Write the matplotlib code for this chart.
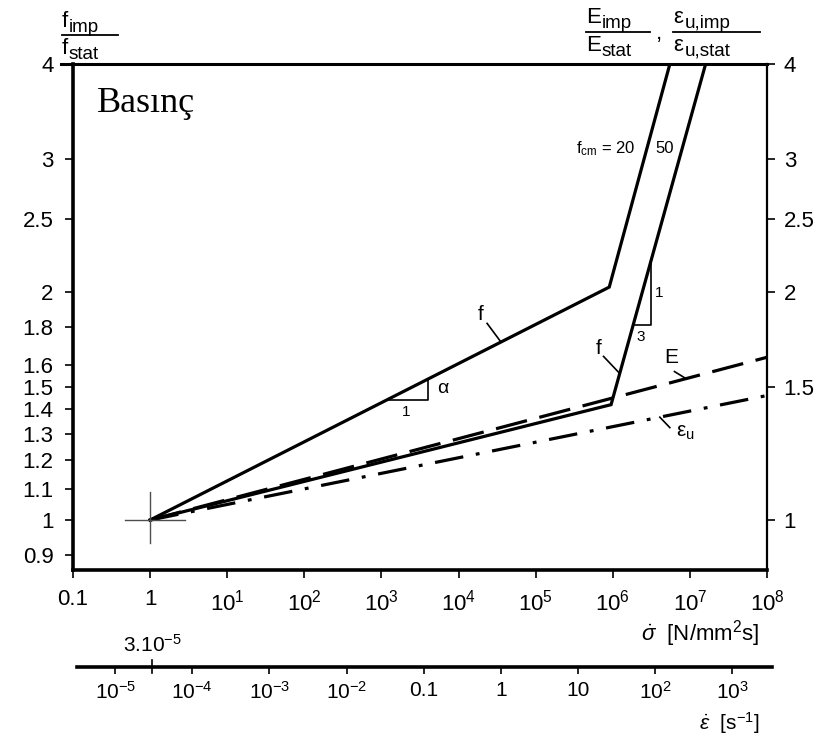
import numpy as np
import matplotlib
matplotlib.use("Agg")
import matplotlib.pyplot as plt
from matplotlib.lines import Line2D

plt.rcParams['font.family'] = ['Liberation Sans Narrow', 'Liberation Sans', 'DejaVu Sans']
plt.rcParams['mathtext.fontset'] = 'custom'
plt.rcParams['mathtext.rm'] = 'Liberation Sans'
plt.rcParams['mathtext.it'] = 'Liberation Sans:italic'
plt.rcParams['mathtext.sf'] = 'Liberation Sans'

# -- data (stress rate vs. dynamic increase factor)
sigma_f20 = [1, 9.0e5, 5.5e6]
ratio_f20 = [1, 2.03, 4.0]
sigma_f50 = [1, 9.5e5, 1.6e7]
ratio_f50 = [1, 1.42, 4.0]
sigma_E = [1, 1e8]
ratio_E = [1, 1.64]
sigma_eu = [1, 1e8]
ratio_eu = [1, 1.46]

x_ticks = [0.1, 1, 1e1, 1e2, 1e3, 1e4, 1e5, 1e6, 1e7, 1e8]
x_labels = ['0.1', '1', '10$^1$', '10$^2$', '10$^3$', '10$^4$', '10$^5$', '10$^6$', '10$^7$', '10$^8$']
y_left_ticks = [0.9, 1, 1.1, 1.2, 1.3, 1.4, 1.5, 1.6, 1.8, 2, 2.5, 3, 4]
y_right_ticks = [1, 1.5, 2, 2.5, 3, 4]

strain_factor = 3e-5   # eps_dot = sigma_dot * 3e-5
eps_ticks = [1e-5, 1e-4, 1e-3, 1e-2, 0.1, 1, 10, 1e2, 1e3]
eps_labels = ['10$^{-5}$', '10$^{-4}$', '10$^{-3}$', '10$^{-2}$', '0.1', '1', '10', '10$^2$', '10$^3$']

W, H = 814, 738
fig = plt.figure(figsize=(W / 100, H / 100), dpi=100)
ax = fig.add_axes([73 / W, 1 - 570 / H, (767 - 73) / W, (570 - 64) / H])
ax.set_xscale('log')
ax.set_yscale('log')
ax.set_xlim(0.1, 1e8)
ax.set_ylim(0.859, 4.0)

lw = 2.3
ax.plot(sigma_f20, ratio_f20, color='black', lw=lw, solid_joinstyle='miter')
ax.plot(sigma_f50, ratio_f50, color='black', lw=lw, solid_joinstyle='miter')
ax.plot(sigma_E, ratio_E, color='black', lw=lw, dashes=(10, 4))
ax.plot(sigma_eu, ratio_eu, color='black', lw=lw, dashes=(9, 4, 1.2, 4))

# crosshair at origin of the curves
ax.plot([10 ** -0.324, 10 ** 0.454], [1, 1], color='0.3', lw=1.0)
ax.plot([1, 1], [10 ** -0.0305, 10 ** 0.037], color='0.3', lw=1.0)


def on_curve(xs, ys, x):
    return 10 ** np.interp(np.log10(x), np.log10(xs), np.log10(ys))


# slope triangle alpha on fcm=20 branch
x0, x1 = 10 ** 3.06, 10 ** 3.6
y0 = on_curve(sigma_f20, ratio_f20, x0)
y1 = on_curve(sigma_f20, ratio_f20, x1)
ax.plot([x0, x1, x1], [y0, y0, y1], color='black', lw=1.2)
ax.text(10 ** 3.72, 10 ** (np.log10(y0) + 0.016), r'$\mathrm{\alpha}$', fontsize=14, va='center')
ax.text(10 ** 3.32, y0 * 0.985, '1', fontsize=11, ha='center', va='top')

# slope triangle 1/3 on fcm=50 steep branch
x0, x1 = 10 ** 6.265, 10 ** 6.498
y0 = on_curve(sigma_f50, ratio_f50, x0)
y1 = on_curve(sigma_f50, ratio_f50, x1)
ax.plot([x0, x1, x1], [y0, y0, y1], color='black', lw=1.2)
ax.text(10 ** 6.55, 10 ** ((np.log10(y0) + np.log10(y1)) / 2), '1', fontsize=11, va='center')
ax.text(10 ** 6.36, y0 * 0.985, '3', fontsize=11, ha='center', va='top')

# curve labels with leader lines
ax.text(10 ** 4.29, 1.87, 'f', fontsize=15, ha='center', va='center')
ax.plot([10 ** 4.37, 10 ** 4.55], [10 ** 0.2596, on_curve(sigma_f20, ratio_f20, 10 ** 4.55)], color='black', lw=1.2)
ax.text(10 ** 5.81, 10 ** 0.226, 'f', fontsize=15, ha='center', va='center')
ax.plot([10 ** 5.88, 10 ** 6.09], [10 ** 0.216, on_curve(sigma_f50, ratio_f50, 10 ** 6.09)], color='black', lw=1.2)
ax.text(10 ** 6.76, 10 ** 0.215, 'E', fontsize=15, ha='center', va='center')
ax.plot([10 ** 6.8, 10 ** 6.95], [10 ** 0.196, on_curve(sigma_E, ratio_E, 10 ** 6.95)], color='black', lw=1.2)
ax.text(10 ** 6.94, 10 ** 0.116, r'$\mathrm{\varepsilon_u}$', fontsize=15, ha='center', va='center')
ax.plot([10 ** 6.61, 10 ** 6.74], [on_curve(sigma_eu, ratio_eu, 10 ** 6.61), 10 ** 0.122], color='black', lw=1.2)
ax.text(10 ** 6.30, 10 ** 0.49, r'$\mathrm{f_{cm}}$ = 20', fontsize=12, ha='right', va='center')
ax.text(10 ** 6.55, 10 ** 0.49, '50', fontsize=12, ha='left', va='center')

ax.text(0.035, 0.922, 'Basınç', transform=ax.transAxes, fontsize=26,
        family=['Liberation Serif', 'DejaVu Serif'], va='center')

# axes styling
ax.set_xticks(x_ticks)
ax.set_xticklabels(x_labels)
ax.xaxis.set_minor_locator(matplotlib.ticker.NullLocator())
ax.set_yticks(y_left_ticks)
ax.set_yticklabels([f'{v:g}' for v in y_left_ticks])
ax.yaxis.set_minor_locator(matplotlib.ticker.NullLocator())
ax.tick_params(axis='x', direction='out', length=6, width=1.2, labelsize=16, pad=8)
ax.tick_params(axis='y', direction='out', length=6, width=1.2, labelsize=16, pad=8)
for side, w in [('left', 2.6), ('bottom', 2.6), ('top', 2.2), ('right', 1.6)]:
    ax.spines[side].set_linewidth(w)

axr = ax.twinx()
axr.set_yscale('log')
axr.set_ylim(ax.get_ylim())
axr.set_yticks(y_right_ticks)
axr.set_yticklabels([f'{v:g}' for v in y_right_ticks])
axr.yaxis.set_minor_locator(matplotlib.ticker.NullLocator())
axr.tick_params(axis='y', direction='out', length=6, width=1.2, labelsize=16, pad=6)
for s in axr.spines.values():
    s.set_visible(False)

# top line extends left past the frame
ax.add_line(Line2D([-0.018, 0], [1, 1], transform=ax.transAxes, color='black', lw=2.2, clip_on=False))


# axis titles (fractions), base letter + lowered subscript
def sub_text(px, py, base, sub, base_w, fs=16):
    fig.text(px / W, 1 - py / H, base, fontsize=fs, va='baseline')
    fig.text((px + base_w) / W, 1 - (py + 5) / H, sub, fontsize=fs * 0.85, va='baseline')


sub_text(62, 27, 'f', 'imp', 7)
sub_text(62, 54, 'f', 'stat', 7)
fig.add_artist(Line2D([62 / W, 118 / W], [1 - 35 / H, 1 - 35 / H], color='black', lw=1.3))
sub_text(586, 23, 'E', 'imp', 16)
sub_text(586, 51, 'E', 'stat', 16)
fig.add_artist(Line2D([586 / W, 650 / W], [1 - 32 / H, 1 - 32 / H], color='black', lw=1.3))
fig.text(656 / W, 1 - 34 / H, ',', fontsize=16, va='center')
sub_text(673, 23, 'ε', 'u,imp', 12)
sub_text(673, 51, 'ε', 'u,stat', 12)
fig.add_artist(Line2D([673 / W, 760 / W], [1 - 32 / H, 1 - 32 / H], color='black', lw=1.3))

fig.text(760 / W, 1 - 634 / H, r'$\dot{\sigma}$  [N/mm$^2$s]', fontsize=16, ha='right', va='center')

# strain-rate scale below
px_left, px_right = 77, 772
sig_left = 10 ** ((px_left - 152) / 77.1)
sig_right = 10 ** ((px_right - 152) / 77.1)
ax2 = fig.add_axes([px_left / W, 1 - 667 / H, (px_right - px_left) / W, 20 / H])
ax2.set_xscale('log')
ax2.set_xlim(sig_left * strain_factor, sig_right * strain_factor)
ax2.set_ylim(0, 1)
ax2.set_yticks([])
ax2.set_xticks(eps_ticks)
ax2.set_xticklabels(eps_labels)
ax2.xaxis.set_minor_locator(matplotlib.ticker.NullLocator())
ax2.tick_params(axis='x', direction='out', length=5, width=1.2, labelsize=15, pad=5)
for s in ['left', 'right', 'top']:
    ax2.spines[s].set_visible(False)
ax2.spines['bottom'].set_linewidth(2.6)
ax2.patch.set_alpha(0)
ax2.plot([strain_factor, strain_factor], [-0.3, 0.35], color='black', lw=1.2, clip_on=False)
ax2.text(strain_factor, 0.55, '3.10$^{-5}$', fontsize=15, ha='center', va='bottom')

fig.text(760 / W, 1 - 723 / H, r'$\dot{\varepsilon}$  [s$^{-1}$]', fontsize=15, ha='right', va='center')

fig.savefig('out.png', dpi=100)
